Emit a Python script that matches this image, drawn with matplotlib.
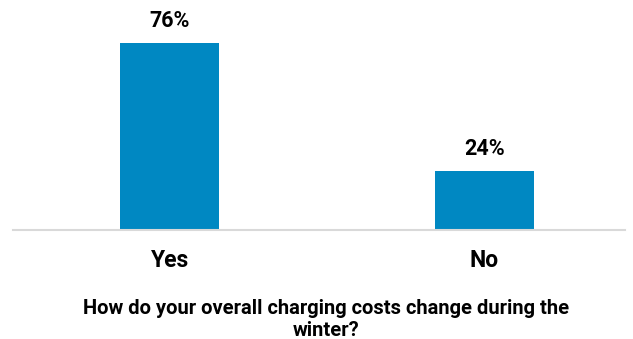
import matplotlib.pyplot as plt

categories = ["Yes", "No"]
values = [76, 24]
value_labels = ["76%", "24%"]
title = "How do your overall charging costs change during the\nwinter?"

plt.rcParams['font.family'] = ['Roboto', 'DejaVu Sans']

fig = plt.figure(figsize=(6.33, 3.39), dpi=100)
ax = fig.add_axes([13 / 633, 109 / 339, 612 / 633, 220 / 339])

x = range(len(categories))
bars = ax.bar(x, values, width=0.315, color="#0088c2")
for b, lab in zip(bars, value_labels):
    ax.annotate(lab, (b.get_x() + b.get_width() / 2, b.get_height()),
                xytext=(0, 8), textcoords="offset points",
                ha="center", va="bottom", fontsize=15.5, fontweight="bold")

ax.set_xlim(-0.498, 1.448)
ax.set_ylim(0, 89.4)
ax.set_xticks(list(x))
ax.set_xticklabels(categories, fontsize=16.5, fontweight="bold")
ax.tick_params(axis="x", length=0, pad=14)
ax.set_yticks([])
for s in ["top", "right", "left"]:
    ax.spines[s].set_visible(False)
ax.spines["bottom"].set_color("#d9d9d9")
ax.spines["bottom"].set_linewidth(1.5)

fig.text(0.515, 1 - 319 / 339, title, ha="center", va="center",
         fontsize=14.5, fontweight="bold", linespacing=1.2)

fig.savefig("out.png", dpi=100)
